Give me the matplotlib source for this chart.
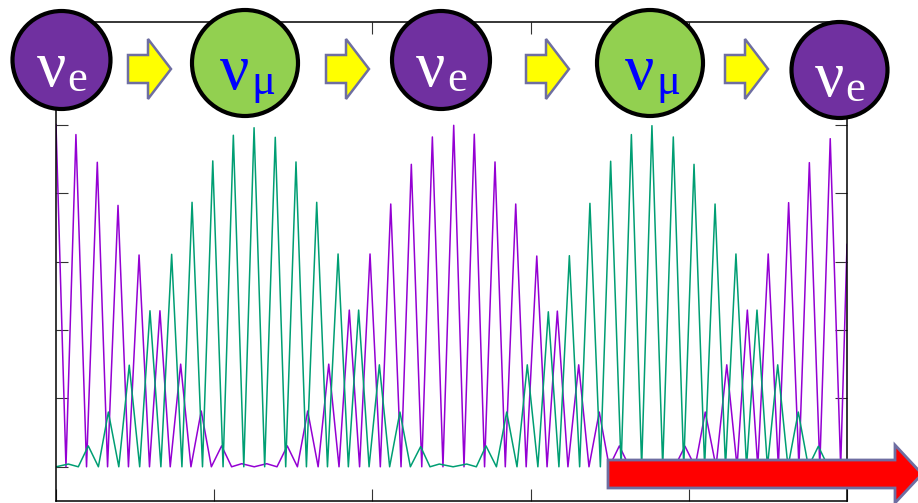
import matplotlib
matplotlib.use("Agg")
import matplotlib.pyplot as plt
import numpy as np
from matplotlib.patches import Circle, Polygon

# ---- data (x in axis units 0..5, probability 0..1) ---- #
purple_peak_x = [0.000, 0.126, 0.261, 0.392, 0.525, 0.657, 0.788, 0.918, 1.047, 1.174,
                 1.332, 1.462, 1.591, 1.724, 1.854, 1.985, 2.116, 2.246, 2.379, 2.514,
                 2.644, 2.775, 2.906, 3.039, 3.169, 3.304, 3.434, 3.561, 3.688, 3.846,
                 3.976, 4.104, 4.240, 4.370, 4.502, 4.631, 4.762, 4.894, 5.000]
purple_peak_p = [1.000, 0.971, 0.890, 0.764, 0.619, 0.456, 0.300, 0.163, 0.061, 0.009,
                 0.009, 0.061, 0.163, 0.300, 0.458, 0.622, 0.768, 0.884, 0.964, 0.998,
                 0.972, 0.891, 0.768, 0.616, 0.455, 0.298, 0.160, 0.061, 0.009, 0.009,
                 0.060, 0.160, 0.298, 0.458, 0.622, 0.772, 0.889, 0.959, 0.650]
purple_trough_x = [0.063, 0.193, 0.326, 0.458, 0.591, 0.722, 0.853, 0.982, 1.110, 1.253,
                   1.397, 1.526, 1.657, 1.789, 1.919, 2.050, 2.181, 2.312, 2.446, 2.579,
                   2.709, 2.840, 2.972, 3.104, 3.236, 3.369, 3.497, 3.624, 3.767, 3.911,
                   4.040, 4.172, 4.305, 4.436, 4.566, 4.696, 4.828, 4.960]
purple_trough_p = [0.0, 0.0, 0.0, 0.0, 0.0, 0.0, 0.0, 0.0, 0.0, 0.0,
                   0.0, 0.0, 0.0, 0.0, 0.0, 0.0, 0.0, 0.0, 0.0, 0.0,
                   0.0, 0.0, 0.0, 0.0, 0.0, 0.0, 0.0, 0.0, 0.0, 0.0,
                   0.0, 0.0, 0.0, 0.0, 0.0, 0.0, 0.0, 0.0]

teal_peak_x = [0.078, 0.204, 0.331, 0.463, 0.594, 0.731, 0.860, 0.991, 1.121, 1.252,
               1.386, 1.517, 1.648, 1.783, 1.913, 2.044, 2.174, 2.305, 2.423, 2.596,
               2.718, 2.849, 2.979, 3.112, 3.245, 3.375, 3.506, 3.637, 3.767, 3.902,
               4.033, 4.166, 4.298, 4.431, 4.562, 4.692, 4.819, 4.943]
teal_peak_p = [0.008, 0.061, 0.160, 0.297, 0.456, 0.621, 0.773, 0.894, 0.969, 0.991,
               0.963, 0.891, 0.773, 0.622, 0.458, 0.298, 0.160, 0.059, 0.008, 0.008,
               0.061, 0.160, 0.298, 0.453, 0.617, 0.770, 0.893, 0.971, 0.997, 0.964,
               0.884, 0.768, 0.622, 0.458, 0.298, 0.160, 0.060, 0.008]
teal_trough_x = [0.000, 0.141, 0.268, 0.397, 0.529, 0.663, 0.796, 0.926, 1.056, 1.187,
                 1.319, 1.452, 1.583, 1.716, 1.848, 1.979, 2.109, 2.240, 2.364, 2.510,
                 2.657, 2.784, 2.914, 3.046, 3.179, 3.310, 3.441, 3.572, 3.702, 3.835,
                 3.968, 4.100, 4.232, 4.365, 4.497, 4.627, 4.756, 4.881, 5.000]
teal_trough_p = [0.0, 0.0, 0.0, 0.0, 0.0, 0.0, 0.0, 0.0, 0.0, 0.0,
                 0.0, 0.0, 0.0, 0.0, 0.0, 0.0, 0.0, 0.0, 0.0, 0.0,
                 0.0, 0.0, 0.0, 0.0, 0.0, 0.0, 0.0, 0.0, 0.0, 0.0,
                 0.0, 0.0, 0.0, 0.0, 0.0, 0.0, 0.0, 0.0, 0.0]

# flavour sequence shown above the plot
flavours = ["e", "μ", "e", "μ", "e"]

PURPLE = "#9400d3"
TEAL = "#009e73"
NU_E_FILL = "#7030a0"
NU_MU_FILL = "#92d050"
ARROW_EDGE = "#6e6ea2"


def merge(px, pp, tx, tp):
    x = np.concatenate([px, tx])
    p = np.concatenate([pp, tp])
    order = np.argsort(x)
    return x[order], p[order]


W, H = 918, 503
fig = plt.figure(figsize=(W / 100, H / 100), dpi=100)

# ---- oscillation plot ------------------------------------------------------ #
ax = fig.add_axes([56 / W, 1 - 501 / H, (847 - 56) / W, (501 - 22) / H])
x, p = merge(purple_peak_x, purple_peak_p, purple_trough_x, purple_trough_p)
ax.plot(x, p, color=PURPLE, lw=1.1, solid_joinstyle="round")
x, p = merge(teal_peak_x, teal_peak_p, teal_trough_x, teal_trough_p)
ax.plot(x, p, color=TEAL, lw=1.1, solid_joinstyle="round")
ax.set_xlim(0, 5)
ax.set_ylim(-0.1, 1.3)
ax.set_xticks(np.arange(0, 6))
ax.set_yticks([0, 0.2, 0.4, 0.6, 0.8, 1.0, 1.2])
ax.tick_params(direction="in", length=8.5, width=0.8, color="#333333",
               top=True, right=True, labelbottom=False, labelleft=False)
for s in ax.spines.values():
    s.set_linewidth(1.1)

# ---- decorations in pixel coordinates -------------------------------------- #
ov = fig.add_axes([0, 0, 1, 1])
ov.set_xlim(0, W)
ov.set_ylim(H, 0)
ov.axis("off")
ov.patch.set_alpha(0)

circles = [(61.5, 60, 51), (245, 63, 55), (441, 60, 51), (650, 63, 55), (839.5, 70, 50)]
for (cx, cy, r), fl in zip(circles, flavours):
    is_e = fl == "e"
    ov.add_patch(Circle((cx, cy), r - 2, facecolor=NU_E_FILL if is_e else NU_MU_FILL,
                        edgecolor="black", lw=3.0, zorder=3))
    tcol = "white" if is_e else "#0000ff"
    ov.text(cx - 10, cy + 26, "ν", color=tcol, fontsize=47, ha="center", va="baseline",
            family="Liberation Serif", zorder=4)
    ov.text(cx + 6, cy + 31, fl, color=tcol, fontsize=32, ha="left", va="baseline",
            family="Liberation Serif", zorder=4)

for x0 in [128, 326, 526, 725]:
    x1, cy = x0 + 43, 69
    xh = x0 + 20
    verts = [(x0, cy - 14), (xh, cy - 14), (xh, cy - 30), (x1, cy),
             (xh, cy + 30), (xh, cy + 14), (x0, cy + 14)]
    ov.add_patch(Polygon(verts, closed=True, facecolor="#ffff00", edgecolor=ARROW_EDGE,
                         lw=1.8, joinstyle="miter", zorder=3))

# big red arrow along the bottom
x0, xh, x1, cy = 608, 895, 922, 474
verts = [(x0, cy - 14), (xh, cy - 14), (xh, cy - 29), (x1, cy),
         (xh, cy + 29), (xh, cy + 14), (x0, cy + 14)]
ov.add_patch(Polygon(verts, closed=True, facecolor="#ff0000", edgecolor=ARROW_EDGE,
                     lw=2.0, joinstyle="miter", zorder=3))

fig.savefig("out.png", dpi=100)
